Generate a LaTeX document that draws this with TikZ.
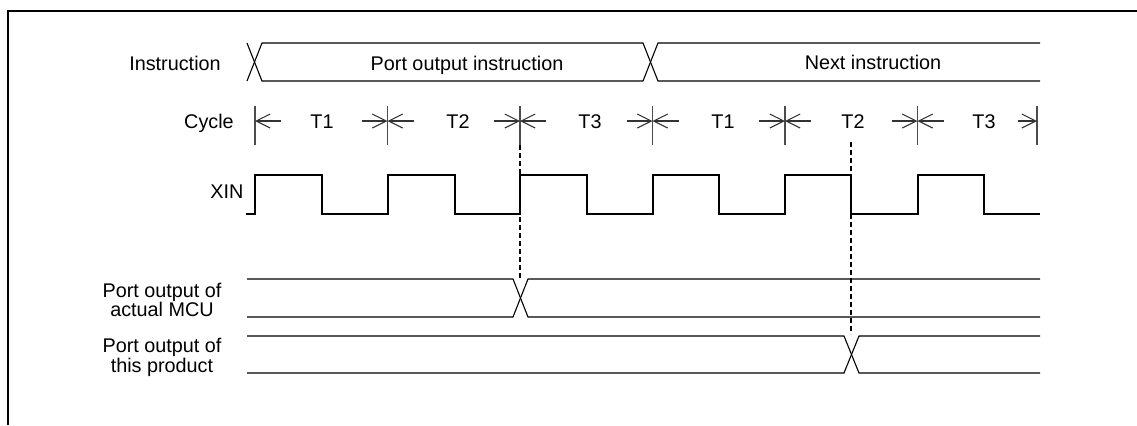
\documentclass[tikz,border=0pt]{standalone}
\usepackage{fontspec}
\setmainfont{Liberation Sans}
\usetikzlibrary{arrows.meta}
\begin{document}
\begin{tikzpicture}[x=0.5pt,y=-0.5pt,
  lbl/.style={font=\fontsize{9.9}{11}\selectfont, inner sep=0pt, anchor=base},
  wave/.style={line width=0.55pt, black, line join=miter},
  cyctick/.style={line width=0.6pt, black!70},
  dimarrow/.style={line width=0.55pt, black!80, -{Straight Barb[length=7pt,width=7pt,line width=0.55pt]}},
  guide/.style={line width=0.6pt, black, dash pattern=on 2.6pt off 1.4pt},
  frame/.style={line width=1pt, black}]
\useasboundingbox (0,0) rectangle (1137,425);
\draw[frame] (7.5,425) -- (7.5,11) -- (1137,11);

% row labels
\node[lbl] (linstr) at (175,70) {Instruction};
\node[lbl] (lcycle) at (209,128) {Cycle};
\node[lbl] (lxin) at (227,198) {XIN};
\node[lbl] (lmcu1) at (162,297) {Port output of};
\node[lbl] (lmcu2) at (162,316.5) {actual MCU};
\node[lbl] (lprod1) at (162,352.5) {Port output of};
\node[lbl] (lprod2) at (162,372) {this product};

% instruction bus
\draw[wave] (247,43) -- (262,81) -- (643,81) -- (658,43) -- (1040,43);
\draw[wave] (247,81) -- (262,43) -- (643,43) -- (658,81) -- (1040,81);
\node[lbl] (ipo) at (467,70) {Port output instruction};
\node[lbl] (inext) at (873,69) {Next instruction};

% cycle ticks and dimension arrows
\foreach \n/\x in {0/255,1/387.5,2/520,3/652.5,4/785,5/917.5,6/1037}{
  \coordinate (t\n) at (\x,121);
  \draw[cyctick] (\x,106) -- (\x,145);
}
\foreach \n in {0,...,5}{
  \draw[dimarrow] ([xshift=13pt]t\n) -- (t\n);
}
\foreach \n in {1,...,5}{
  \draw[dimarrow] ([xshift=-13pt]t\n) -- (t\n);
}
\draw[dimarrow] ([xshift=-9.5pt]t6) -- (t6);
\node[lbl] (c1) at (322,128) {T1};
\node[lbl] (c2) at (458,128) {T2};
\node[lbl] (c3) at (590,128) {T3};
\node[lbl] (c4) at (723,128) {T1};
\node[lbl] (c5) at (853,128) {T2};
\node[lbl] (c6) at (984,128) {T3};

% XIN clock
\draw[wave] (246,214) -- (255,214) -- (255,175) -- (322,175) -- (322,214)
  -- (388,214) -- (388,175) -- (455,175) -- (455,214)
  -- (520,214) -- (520,175) -- (587,175) -- (587,214)
  -- (653,214) -- (653,175) -- (719,175) -- (719,214)
  -- (785,214) -- (785,175) -- (851,175) -- (851,214)
  -- (918,214) -- (918,175) -- (984,175) -- (984,214) -- (1040,214);

% port output of actual MCU
\draw[wave] (247,279) -- (513,279) -- (528,317) -- (1040,317);
\draw[wave] (247,317) -- (513,317) -- (528,279) -- (1040,279);

% port output of this product
\draw[wave] (247,336) -- (844,336) -- (859,373) -- (1040,373);
\draw[wave] (247,373) -- (844,373) -- (859,336) -- (1040,336);

% guides
\coordinate (g1a) at (520,145);
\coordinate (g1b) at (520,278);
\coordinate (g2a) at (851,142);
\coordinate (g2b) at (851,334);
\draw[guide] (g1a) -- (g1b);
\draw[guide] (g2a) -- (g2b);
\end{tikzpicture}
\end{document}
